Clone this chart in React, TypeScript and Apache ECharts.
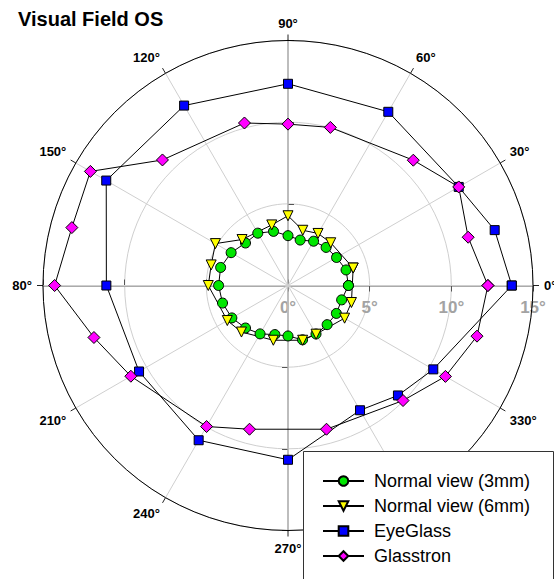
import React, { useEffect, useRef } from 'react';
import * as echarts from 'echarts';

const FONT = 'Arial, "Liberation Sans", Helvetica, sans-serif';

// Angle tick labels (as they appear in the reference; the 180° label is cut to "80°")
const angleTickLabels = ['0°', '30°', '60°', '90°', '120°', '150°', '80°', '210°', '240°', '270°', '300°', '330°'];
const radiusMax = 15;
const radiusStep = 5;

const seriesNames = ['Normal view (3mm)', 'Normal view (6mm)', 'EyeGlass', 'Glasstron'];

const normal3Angles = [0, 15, 30, 45, 60, 75, 90, 105, 120, 135, 150, 165, 180, 195, 210, 225, 240, 255, 270, 285, 300, 315, 330, 345];
const normal3Radii = [3.7, 3.68, 3.43, 3.3, 3.13, 2.88, 3.05, 3.43, 3.7, 3.68, 4.02, 4.27, 4.25, 4.15, 3.97, 3.68, 3.42, 3.11, 3.09, 3.44, 3.43, 3.39, 3.42, 3.4];

const normal6Angles = [15, 45, 60, 75, 90, 105, 135, 150, 165, 180, 210, 225, 255, 285, 300, 330, 345];
const normal6Radii = [4.13, 3.7, 3.68, 3.5, 4.27, 3.84, 3.98, 5.13, 4.87, 4.88, 4.29, 4.03, 3.47, 3.47, 3.44, 4.0, 4.02];

const eyeGlassAngles = [0, 15, 30, 60, 90, 120, 150, 180, 210, 240, 270, 300, 315, 330];
const eyeGlassRadii = [13.7, 13.1, 12.07, 12.28, 12.35, 12.72, 12.85, 11.12, 10.53, 10.94, 10.67, 8.82, 9.52, 10.27];

const glasstronAngles = [0, 15, 30, 45, 75, 90, 105, 135, 150, 165, 180, 195, 210, 240, 255, 285, 315, 330, 345];
const glasstronRadii = [12.24, 11.42, 12.07, 10.85, 10.02, 9.88, 10.3, 10.87, 13.97, 13.7, 14.29, 12.3, 11.11, 9.97, 9.11, 9.11, 9.96, 11.13, 11.98];

const closedLoop = (angles: number[], radii: number[]) => {
  const pts = angles.map((a, i) => [radii[i], a]);
  pts.push([radii[0], angles[0]]);
  return pts;
};

export default function App() {
  const ref = useRef<HTMLDivElement>(null);
  useEffect(() => {
    if (!ref.current) return;
    const chart = echarts.init(ref.current, null, { renderer: 'svg' });
    const center = [288, 285.5];
    const R = 245;
    const startAngles = [0, 90, 180, 270];

    const polar = startAngles.map(() => ({ center, radius: R }));
    const angleAxis: any[] = startAngles.map((sa, i) => {
      if (i === 0) {
        return {
          polarIndex: 0,
          type: 'value',
          min: 0,
          max: 360,
          interval: 30,
          startAngle: 0,
          clockwise: false,
          z: 5,
          axisLine: { lineStyle: { color: '#000', width: 1 } },
          axisTick: { show: true, length: 6, lineStyle: { color: '#222', width: 1 } },
          axisLabel: {
            margin: 11,
            color: '#000',
            fontFamily: FONT,
            fontWeight: 'bold',
            fontSize: 13,
            formatter: (v: number) => angleTickLabels[Math.round(v / 30) % 12],
          },
          splitLine: { show: true, lineStyle: { color: '#cfcfcf', width: 1 } },
        };
      }
      return {
        polarIndex: i,
        type: 'value',
        min: 0,
        max: 360,
        startAngle: sa,
        clockwise: false,
        axisLine: { show: false },
        axisTick: { show: false },
        axisLabel: { show: false },
        splitLine: { show: false },
      };
    });
    const radiusAxis: any[] = startAngles.map((sa, i) => ({
      polarIndex: i,
      type: 'value',
      min: 0,
      max: radiusMax,
      interval: radiusStep,
      z: 3,
      axisLine: { show: true, lineStyle: { color: '#ababab', width: 2 } },
      axisTick: { show: true, length: -6, lineStyle: { color: '#555', width: 1 } },
      axisLabel:
        i === 0
          ? {
              show: true,
              margin: -13,
              verticalAlign: 'top',
              color: '#a3a3a3',
              fontFamily: FONT,
              fontWeight: 'bold',
              fontSize: 17,
              formatter: '{value}°',
            }
          : { show: false },
      splitLine: i === 0 ? { show: true, lineStyle: { color: '#cfcfcf', width: 1 } } : { show: false },
    }));

    const mk = (name: string, angles: number[], radii: number[], symbol: string, color: string, size: number, rotate = 0) => ({
      type: 'line',
      name,
      coordinateSystem: 'polar',
      polarIndex: 0,
      data: closedLoop(angles, radii),
      symbol,
      symbolSize: size,
      symbolRotate: rotate,
      showSymbol: true,
      showAllSymbol: true,
      lineStyle: { color: '#000', width: 1 },
      itemStyle: { color, borderColor: '#000', borderWidth: 1 },
      z: 10,
    });

    chart.setOption({
      animation: false,
      backgroundColor: '#fff',
      title: {
        text: 'Visual Field OS',
        left: 18,
        top: 9,
        padding: 0,
        textStyle: { fontFamily: FONT, fontSize: 20, fontWeight: 'bold', color: '#000' },
      },
      polar,
      angleAxis,
      radiusAxis,
      graphic: [
        {
          type: 'rect',
          left: 303,
          top: 451,
          z: 50,
          shape: { width: 250, height: 140 },
          style: { fill: '#fff', stroke: '#333', lineWidth: 1 },
        },
      ],
      legend: {
        orient: 'vertical',
        left: 303,
        top: 451,
        height: 120,
        data: seriesNames,
        selectedMode: false,
        padding: [21, 0, 0, 19],
        itemWidth: 41,
        itemHeight: 12,
        itemGap: 7,
        z: 60,
        textStyle: { fontFamily: FONT, fontSize: 18, color: '#000', lineHeight: 18, padding: [0, 0, 0, 5] },
      },
      series: [
        mk(seriesNames[0], normal3Angles, normal3Radii, 'circle', '#00e600', 10),
        mk(seriesNames[1], normal6Angles, normal6Radii, 'triangle', '#ffff00', 10, 180),
        mk(seriesNames[2], eyeGlassAngles, eyeGlassRadii, 'rect', '#0000ff', 9),
        mk(seriesNames[3], glasstronAngles, glasstronRadii, 'diamond', '#ff00ff', 12),
      ],
    });
    return () => chart.dispose();
  }, []);
  return <div ref={ref} style={{ position: 'absolute', left: 0, top: 0, width: 554, height: 579 }} />;
}
